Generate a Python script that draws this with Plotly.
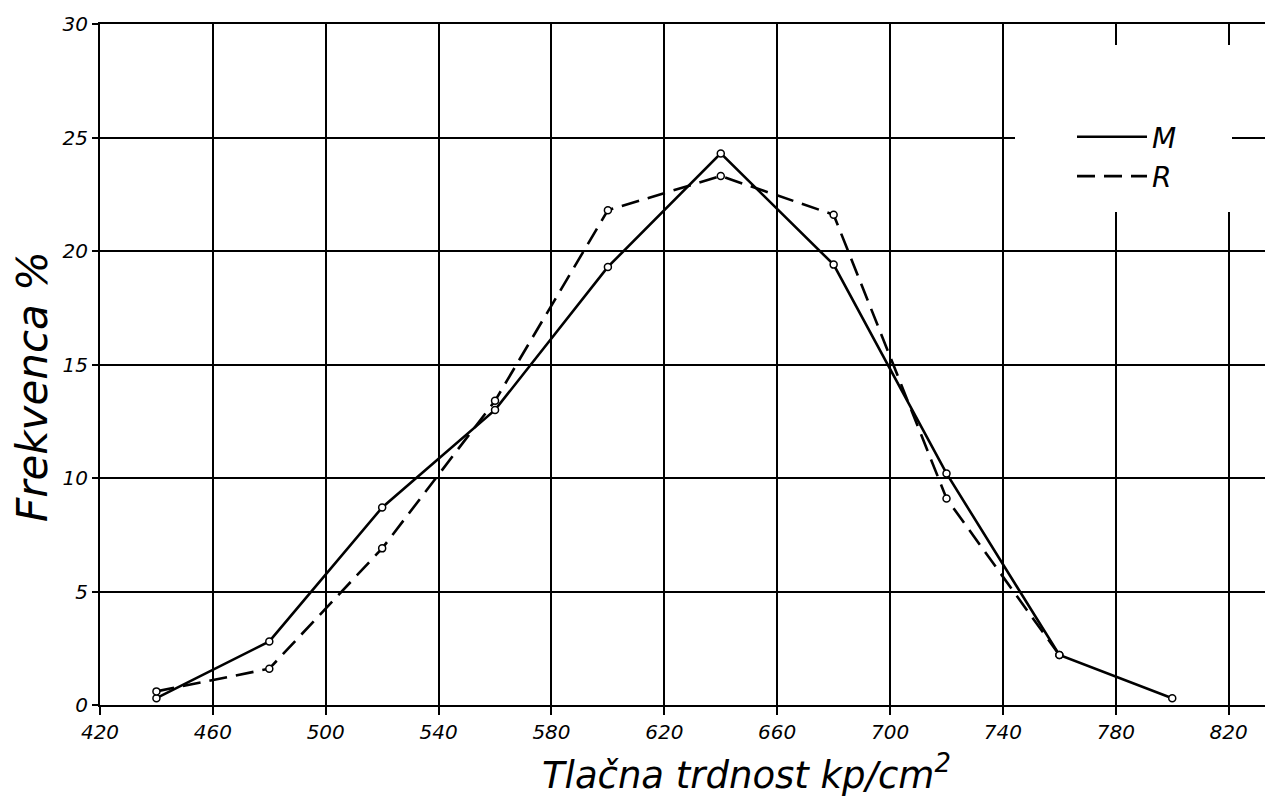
import plotly.graph_objects as go

# Data
x_M = [440, 480, 520, 560, 600, 640, 680, 720, 760, 800]
y_M = [0.3, 2.8, 8.7, 13.0, 19.3, 24.3, 19.4, 10.2, 2.2, 0.3]
x_R = [440, 480, 520, 560, 600, 640, 680, 720, 760]
y_R = [0.6, 1.6, 6.9, 13.4, 21.8, 23.3, 21.6, 9.1, 2.2]

x_ticks = [420, 460, 500, 540, 580, 620, 660, 700, 740, 780, 820]
y_ticks = [0, 5, 10, 15, 20, 25, 30]

x_title = "Tlačna trdnost kp/cm<sup>2</sup>"
y_title = "Frekvenca %"

FONT = "DejaVu Sans"
MARKER = dict(symbol="circle", size=7, color="white",
              line=dict(color="black", width=1.5))

# page body adds an 8px offset; plot area spans x 100..1271, y 24..705 on screen
FIG_W, FIG_H, OFF = 1265, 796, 8
PX_L, PX_R, PX_T, PX_B = 100, 1271, 24, 705
W = PX_R - PX_L
H = PX_B - PX_T


def px(xs):
    return (xs - PX_L) / W


def py(ys):
    return (PX_B - ys) / H


fig = go.Figure()
# lines (shown in legend)
fig.add_trace(go.Scatter(
    x=x_M, y=y_M, name="M", mode="lines", legendgroup="M",
    line=dict(color="black", width=2.6),
))
fig.add_trace(go.Scatter(
    x=x_R, y=y_R, name="R", mode="lines", legendgroup="R",
    line=dict(color="black", width=2.6, dash="18px,9px"),
))
# point markers (not in legend)
fig.add_trace(go.Scatter(
    x=x_M, y=y_M, name="M", mode="markers", legendgroup="M",
    showlegend=False, marker=MARKER,
))
fig.add_trace(go.Scatter(
    x=x_R, y=y_R, name="R", mode="markers", legendgroup="R",
    showlegend=False, marker=MARKER,
))

# white patch behind the legend (interrupts the grid as in the reference)
fig.add_shape(type="rect", xref="paper", yref="paper",
              x0=px(1015), x1=px(1232), y0=py(212), y1=py(45),
              fillcolor="white", line=dict(width=0), layer="above")

# axis titles placed as in the hand-drawn original
fig.add_annotation(text=x_title, xref="paper", yref="paper",
                   x=px(746), y=py(772), xanchor="center", yanchor="middle",
                   showarrow=False,
                   font=dict(family=FONT, size=37, style="italic", color="black"))
fig.add_annotation(text=y_title, xref="paper", yref="paper",
                   x=px(33), y=py(387), xanchor="center", yanchor="middle",
                   textangle=-90, showarrow=False,
                   font=dict(family=FONT, size=42, style="italic", color="black"))

fig.update_layout(
    width=FIG_W, height=FIG_H,
    margin=dict(l=PX_L - OFF, r=FIG_W + OFF - PX_R,
                t=PX_T - OFF, b=FIG_H + OFF - PX_B),
    paper_bgcolor="white", plot_bgcolor="white",
    font=dict(family=FONT, color="black"),
    showlegend=True,
    legend=dict(x=px(1072), y=py(112),
                xanchor="left", yanchor="top",
                bgcolor="rgba(255,255,255,0)", borderwidth=0,
                font=dict(family=FONT, size=28, style="italic", color="black"),
                itemwidth=70, tracegroupgap=0),
    xaxis=dict(
        range=[420, 835], tickvals=x_ticks, automargin=False,
        ticks="outside", ticklen=8, tickwidth=2, tickcolor="black",
        showgrid=True, gridcolor="black", gridwidth=2,
        showline=True, linecolor="black", linewidth=2, mirror=True,
        zeroline=False,
        tickfont=dict(family=FONT, size=20, style="italic"),
    ),
    yaxis=dict(
        range=[0, 30], tickvals=y_ticks, automargin=False,
        ticks="outside", ticklen=6, tickwidth=2, tickcolor="black",
        showgrid=True, gridcolor="black", gridwidth=2,
        showline=True, linecolor="black", linewidth=2, mirror=True,
        zeroline=False,
        tickfont=dict(family=FONT, size=20, style="italic"),
    ),
)

fig.write_html("out.html")
